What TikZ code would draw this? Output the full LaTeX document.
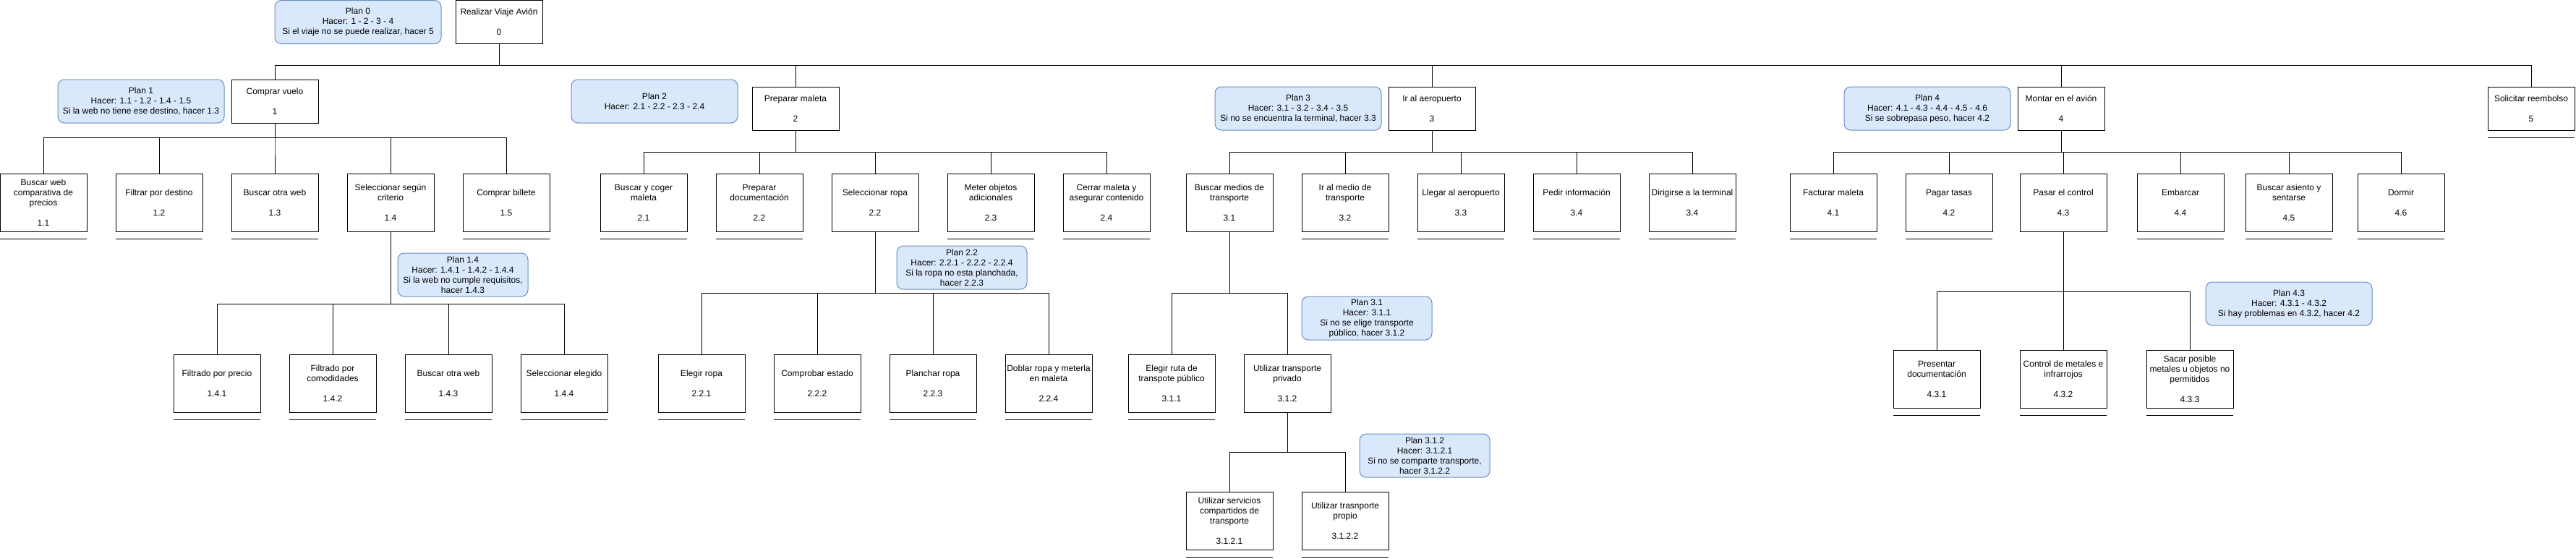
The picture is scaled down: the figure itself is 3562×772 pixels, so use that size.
\documentclass[tikz,border=0pt]{standalone}
\usepackage{fontspec}
\setmainfont{Liberation Sans}
\usetikzlibrary{positioning}
\definecolor{planfill}{HTML}{DAE8FC}
\definecolor{planedge}{HTML}{6C8EBF}

\begin{document}
\begin{tikzpicture}[
    x=1pt, y=-1pt,
    font=\fontsize{12}{14}\selectfont,
    task/.style={draw, line width=1pt, fill=white, align=center, inner sep=1pt, outer sep=0pt, minimum width=120pt, minimum height=80pt},
    headbox/.style={task, minimum height=60pt},
    plan/.style={draw=planedge, line width=1pt, fill=planfill, rounded corners=9pt, align=center, inner sep=1pt, outer sep=0pt, minimum width=230pt, minimum height=60pt},
    plansmall/.style={plan, minimum width=180pt},
    link/.style={draw, line width=1pt},
    leaf/.style={line width=1pt}
  ]
  \fill[white] (0,0) rectangle (3562,772);
  \useasboundingbox (0,0) rectangle (3562,772);

  % Root
  \node[headbox] (t0) at (690,30.5) {Realizar Viaje Avión\\~\\0};
  \node[plan, left=20pt of t0] (p0) {Plan 0\\Hacer: 1 - 2 - 3 - 4\\Si el viaje no se puede realizar, hacer 5};

  % Level 1
  \node[headbox] (t1) at (380,140) {Comprar vuelo\\~\\1};
  \node[headbox] (t2) at (1100,150) {Preparar maleta\\~\\2};
  \node[headbox] (t3) at (1980,150) {Ir al aeropuerto\\~\\3};
  \node[headbox] (t4) at (2850,150) {Montar en el avión\\~\\4};
  \node[headbox] (t5) at (3500,150) {Solicitar reembolso\\~\\5};
  \node[plan, left=10pt of t1] (p1) {Plan 1\\Hacer: 1.1 - 1.2 - 1.4 - 1.5\\Si la web no tiene ese destino, hacer 1.3};
  \node[plan, left=20pt of t2, yshift=10pt] (p2) {Plan 2\\Hacer: 2.1 - 2.2 - 2.3 - 2.4};
  \node[plan, left=10pt of t3] (p3) {Plan 3\\Hacer: 3.1 - 3.2 - 3.4 - 3.5\\Si no se encuentra la terminal, hacer 3.3};
  \node[plan, left=10pt of t4] (p4) {Plan 4\\Hacer: 4.1 - 4.3 - 4.4 - 4.5 - 4.6\\Si se sobrepasa peso, hacer 4.2};
  \foreach \c in {t1,t2,t3,t4,t5}
    \draw[link] (t0.south) -- ++(0,30) -| (\c.north);

  % Block 1
  \node[task, below=70pt of t1] (t13) {Buscar otra web\\~\\1.3};
  \node[task, left=40pt of t13] (t12) {Filtrar por destino\\~\\1.2};
  \node[task, left=40pt of t12] (t11) {Buscar web\\comparativa de\\precios\\~\\1.1};
  \node[task, right=40pt of t13] (t14) {Seleccionar según\\criterio\\~\\1.4};
  \node[task, right=40pt of t14] (t15) {Comprar billete\\~\\1.5};
  \foreach \c in {t11,t12,t13,t14,t15}
    \draw[link] (t1.south) -- ++(0,20) -| (\c.north);

  \node[task, below=170pt of t14, xshift=-80pt] (t142) {Filtrado por\\comodidades\\~\\1.4.2};
  \node[task, left=40pt of t142] (t141) {Filtrado por precio\\~\\1.4.1};
  \node[task, right=40pt of t142] (t143) {Buscar otra web\\~\\1.4.3};
  \node[task, right=40pt of t143] (t144) {Seleccionar elegido\\~\\1.4.4};
  \node[plansmall] (p14) at (640,380) {Plan 1.4\\Hacer: 1.4.1 - 1.4.2 - 1.4.4\\Si la web no cumple requisitos,\\hacer 1.4.3};
  \foreach \c in {t141,t142,t143,t144}
    \draw[link] (t14.south) -- ++(0,100) -| (\c.north);

  % Block 2
  \node[task] (t21) at (890,280) {Buscar y coger\\maleta\\~\\2.1};
  \node[task, right=40pt of t21] (t22) {Preparar\\documentación\\~\\2.2};
  \node[task, right=40pt of t22] (t23) {Seleccionar ropa\\~\\2.2};
  \node[task, right=40pt of t23] (t24) {Meter objetos\\adicionales\\~\\2.3};
  \node[task, right=40pt of t24] (t25) {Cerrar maleta y\\asegurar contenido\\~\\2.4};
  \foreach \c in {t21,t22,t23,t24,t25}
    \draw[link] (t2.south) -- ++(0,30) -| (\c.north);

  \node[task, below=170pt of t23, xshift=-80pt] (t222) {Comprobar estado\\~\\2.2.2};
  \node[task, left=40pt of t222] (t221) {Elegir ropa\\~\\2.2.1};
  \node[task, right=40pt of t222] (t223) {Planchar ropa\\~\\2.2.3};
  \node[task, right=40pt of t223] (t224) {Doblar ropa y meterla\\en maleta\\~\\2.2.4};
  \node[plansmall] (p22) at (1330,370) {Plan 2.2\\Hacer: 2.2.1 - 2.2.2 - 2.2.4\\Si la ropa no esta planchada,\\hacer 2.2.3};
  \foreach \c in {t221,t222,t223,t224}
    \draw[link] (t23.south) -- ++(0,85) -| (\c.north);

  % Block 3
  \node[task] (t31) at (1700,280) {Buscar medios de\\transporte\\~\\3.1};
  \node[task, right=40pt of t31] (t32) {Ir al medio de\\transporte\\~\\3.2};
  \node[task, right=40pt of t32] (t33) {Llegar al aeropuerto\\~\\3.3};
  \node[task, right=40pt of t33] (t34) {Pedir información\\~\\3.4};
  \node[task, right=40pt of t34] (t35) {Dirigirse a la terminal\\~\\3.4};
  \foreach \c in {t31,t32,t33,t34,t35}
    \draw[link] (t3.south) -- ++(0,30) -| (\c.north);

  \node[task, below=170pt of t31, xshift=-80pt] (t311) {Elegir ruta de\\transpote público\\~\\3.1.1};
  \node[task, right=40pt of t311] (t312) {Utilizar transporte\\privado\\~\\3.1.2};
  \node[plansmall] (p31) at (1890,440) {Plan 3.1\\Hacer: 3.1.1\\Si no se elige transporte\\público, hacer 3.1.2};
  \foreach \c in {t311,t312}
    \draw[link] (t31.south) -- ++(0,85) -| (\c.north);

  \node[task, below=110pt of t312, xshift=-80pt] (t3121) {Utilizar servicios\\compartidos de\\transporte\\~\\3.1.2.1};
  \node[task, right=40pt of t3121] (t3122) {Utilizar trasnporte\\propio\\~\\3.1.2.2};
  \node[plansmall] (p312) at (1970,630) {Plan 3.1.2\\Hacer: 3.1.2.1\\Si no se comparte transporte,\\hacer 3.1.2.2};
  \foreach \c in {t3121,t3122}
    \draw[link] (t312.south) -- ++(0,55) -| (\c.north);

  % Block 4
  \node[task] (t41) at (2535,280) {Facturar maleta\\~\\4.1};
  \node[task, right=40pt of t41] (t42) {Pagar tasas\\~\\4.2};
  \node[task, right=38pt of t42] (t43) {Pasar el control\\~\\4.3};
  \node[task, right=42pt of t43] (t44) {Embarcar\\~\\4.4};
  \node[task, right=30pt of t44] (t45) {Buscar asiento y\\sentarse\\~\\4.5};
  \node[task, right=35pt of t45] (t46) {Dormir\\~\\4.6};
  \foreach \c in {t41,t42,t43,t44,t45,t46}
    \draw[link] (t4.south) -- ++(0,30) -| (\c.north);

  \node[task, below=164pt of t43] (t432) {Control de metales e\\infrarrojos\\~\\4.3.2};
  \node[task, left=55pt of t432] (t431) {Presentar\\documentación\\~\\4.3.1};
  \node[task, right=55pt of t432] (t433) {Sacar posible\\metales u objetos no\\permitidos\\~\\4.3.3};
  \node[plan] (p43) at (3165,420) {Plan 4.3\\Hacer: 4.3.1 - 4.3.2\\Si hay problemas en 4.3.2, hacer 4.2};
  \foreach \c in {t431,t432,t433}
    \draw[link] (t43.south) -- ++(0,83) -| (\c.north);

  % Leaf marks
  \foreach \n in {t11,t12,t13,t15,t141,t142,t143,t144,t21,t22,t24,t25,t221,t222,t223,t224,
                  t32,t33,t34,t35,t311,t3121,t3122,t41,t42,t44,t45,t46,t431,t432,t433,t5}
    \draw[leaf] ([yshift=-10pt]\n.south west) -- ([yshift=-10pt]\n.south east);

\end{tikzpicture}
\end{document}
